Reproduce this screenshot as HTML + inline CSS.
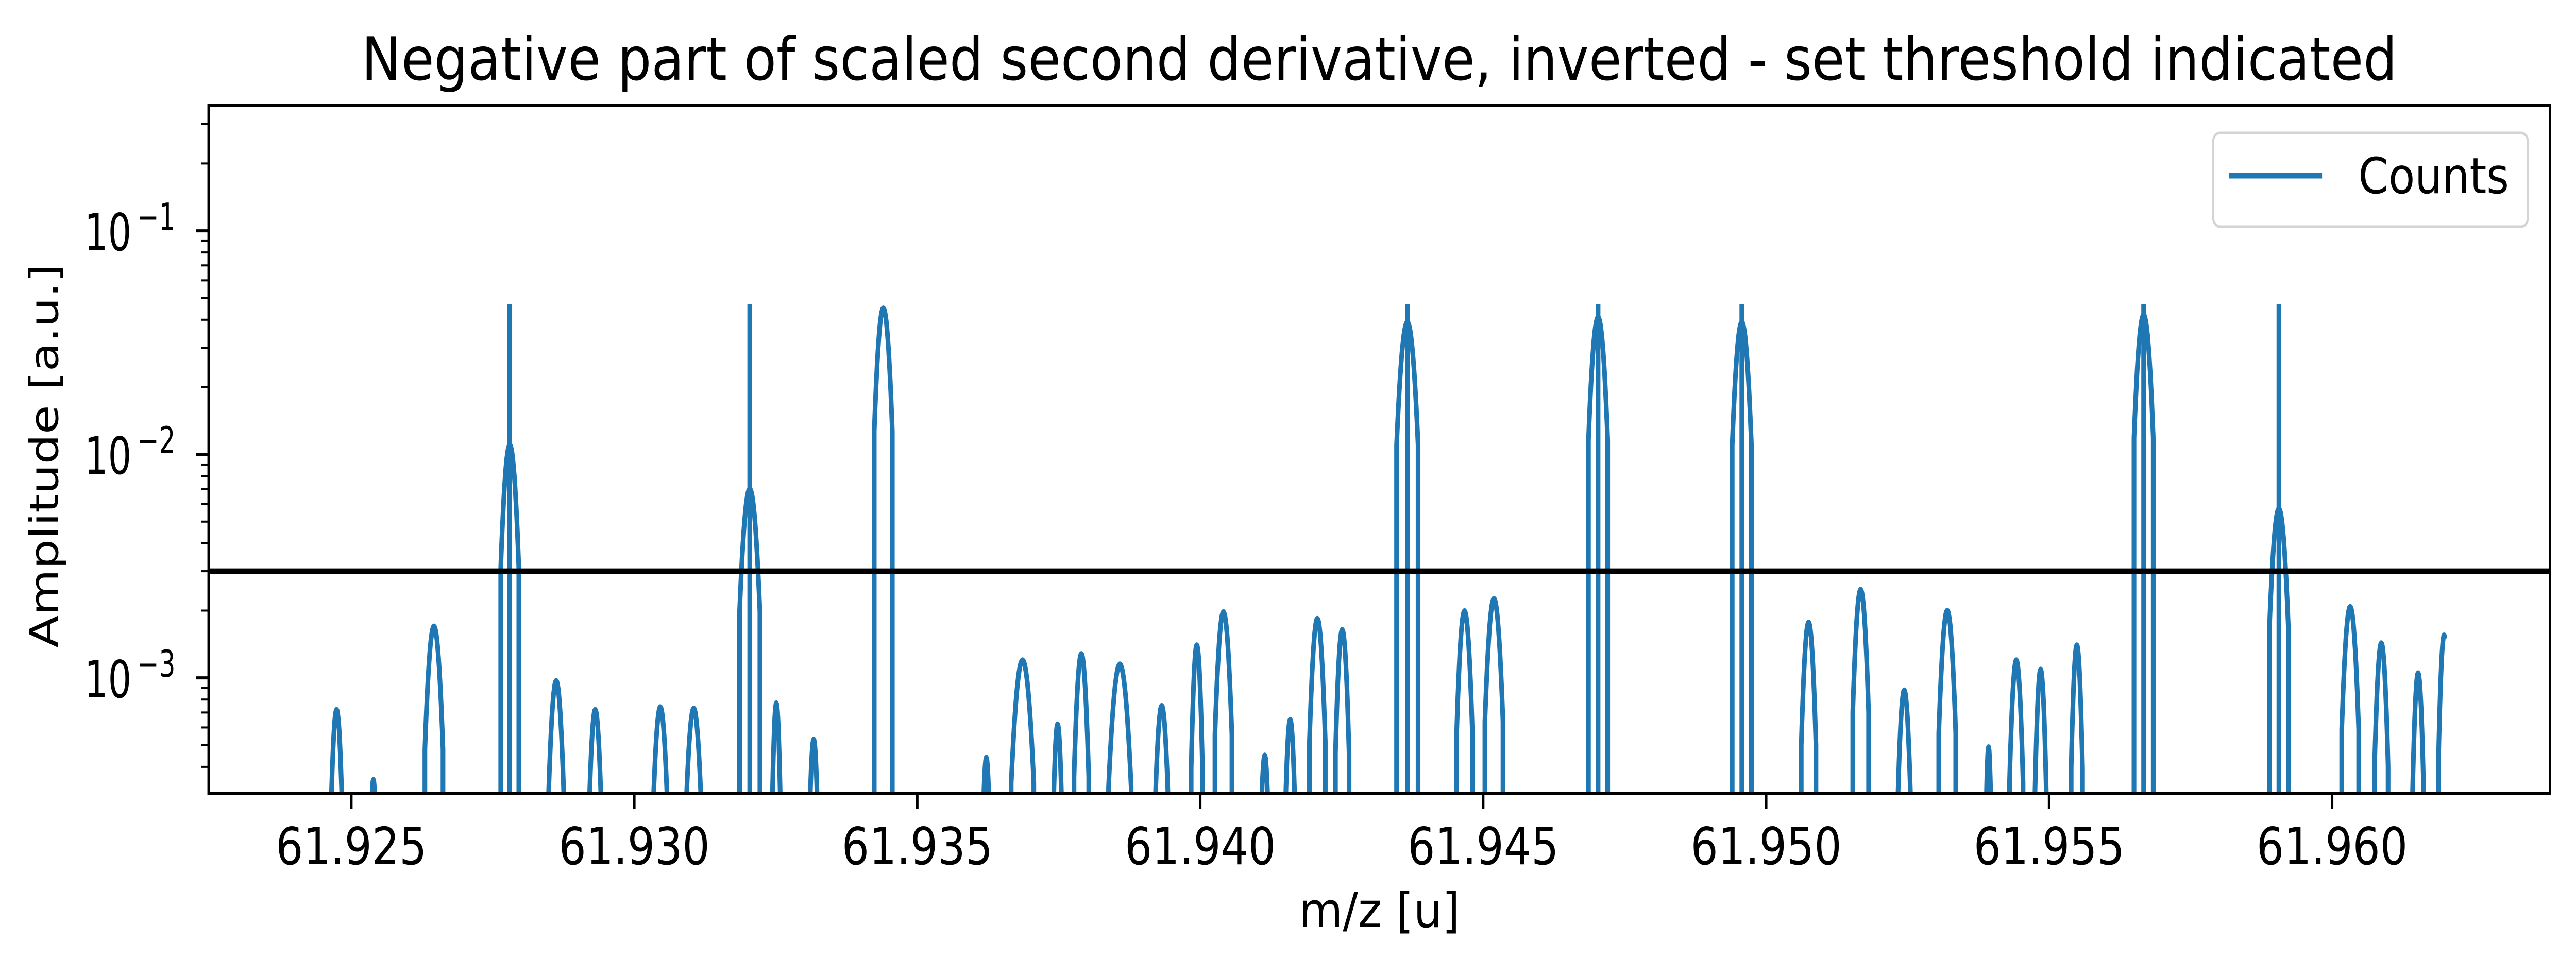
<!DOCTYPE html>
<html><head><meta charset="utf-8"><style>
html,body{margin:0;padding:0;background:#fff;width:100%;height:100%;overflow:hidden}
svg{display:block;position:absolute;left:0;top:0;width:100vw;height:100vh}
text{font-family:"DejaVu Sans","Liberation Sans",sans-serif;font-stretch:normal;fill:#000}
</style></head><body>
<svg id="chart" viewBox="0 0 6036 1895" preserveAspectRatio="none" xmlns="http://www.w3.org/2000/svg">
<defs><clipPath id="plotclip"><rect x="489" y="204" width="5486" height="1336"/></clipPath></defs>
<rect x="0" y="0" width="6036" height="1895" fill="#fff"/>
<text x="3232" y="155" font-size="116" text-anchor="middle" textLength="4770" lengthAdjust="spacingAndGlyphs">Negative part of scaled second derivative, inverted - set threshold indicated</text>
<text x="3232" y="1800" font-size="94" text-anchor="middle" textLength="377" lengthAdjust="spacingAndGlyphs">m/z [u]</text>
<text x="0" y="0" font-size="92" text-anchor="middle" transform="translate(136,885) rotate(-90)">Amplitude [a.u.]</text>
<g id="series" clip-path="url(#plotclip)"></g>
<g id="axes"></g>
<g>
<rect x="5186" y="258" width="737" height="182" rx="16" fill="#fff" fill-opacity="0.8" stroke="#d4d4d4" stroke-width="5"/>
<line x1="5223" y1="341" x2="5441" y2="341" stroke="#1f77b4" stroke-width="11"/>
<text x="5526" y="375" font-size="96" textLength="353" lengthAdjust="spacingAndGlyphs">Counts</text>
</g>
</svg>
<script>
// data
const peakMz = [61.92474,61.92539,61.92646,61.92780,61.92862,61.92931,61.93046,61.93105,61.93204,61.93251,
61.93317,61.93440,61.93622,61.93686,61.93748,61.93790,61.93858,61.93932,61.93994,61.94041,
61.94114,61.94159,61.94207,61.94251,61.94366,61.94467,61.94519,61.94703,61.94957,61.95075,
61.95167,61.95244,61.95320,61.95393,61.95442,61.95485,61.95549,61.95667,61.95906,61.96032,
61.96087,61.96152,61.96198];
const peakAmp = [7.2e-4,3.5e-4,1.7e-3,1.1e-2,9.7e-4,7.2e-4,7.4e-4,7.3e-4,7.0e-3,7.7e-4,
5.3e-4,4.5e-2,4.4e-4,1.2e-3,6.2e-4,1.28e-3,1.15e-3,7.5e-4,1.4e-3,1.97e-3,
4.5e-4,6.5e-4,1.84e-3,1.64e-3,3.9e-2,1.99e-3,2.26e-3,4.1e-2,3.9e-2,1.77e-3,
2.48e-3,8.8e-4,2.0e-3,4.9e-4,1.2e-3,1.09e-3,1.4e-3,4.2e-2,5.7e-3,2.08e-3,
1.43e-3,1.05e-3,1.55e-3];
const peakHalfWidth = [1.1e-4,0.7e-4,1.6e-4,1.6e-4,1.4e-4,1.2e-4,1.4e-4,1.5e-4,1.8e-4,0.8e-4,
0.9e-4,1.6e-4,0.8e-4,2.0e-4,0.9e-4,1.3e-4,2.0e-4,1.3e-4,1.0e-4,1.5e-4,
0.9e-4,1.0e-4,1.4e-4,1.2e-4,1.9e-4,1.4e-4,1.6e-4,1.7e-4,1.7e-4,1.3e-4,
1.4e-4,1.2e-4,1.5e-4,0.6e-4,1.2e-4,1.0e-4,1.0e-4,1.7e-4,1.7e-4,1.5e-4,
1.2e-4,1.0e-4,1.0e-4];
const spikeMz = [61.92780,61.93204,61.94366,61.94703,61.94957,61.95667,61.95906];
const spikeAmp = [0.047,0.047,0.047,0.047,0.047,0.047,0.047];
const dataEndMz = 61.96200;
const thresholdValue = 0.003;
const xTickValues = [61.925,61.930,61.935,61.940,61.945,61.950,61.955,61.960];
const xTickLabels = ["61.925","61.930","61.935","61.940","61.945","61.950","61.955","61.960"];
const yMajorExps = [-1,-2,-3];
const yMajorLabels = ["−1","−2","−3"];

const X0=489,X1=5975,Y0=204,Y1=1540;
const xmin=61.92248,xmax=61.96385;
const lmin=Math.log10(3.05e-4), lmax=Math.log10(0.365);
const xs=v=>X0+(v-xmin)/(xmax-xmin)*(X1-X0);
const ys=v=>Y1-(Math.log10(v)-lmin)/(lmax-lmin)*(Y1-Y0);
const NS="http://www.w3.org/2000/svg";
const series=document.getElementById('series');
const axes=document.getElementById('axes');
function mk(tag,attrs,parent){const e=document.createElementNS(NS,tag);for(const k in attrs)e.setAttribute(k,attrs[k]);parent.appendChild(e);return e;}

const BOT=Y1+30;
peakMz.forEach((m,i)=>{
  const h=peakAmp[i], w=peakHalfWidth[i], drop=0.55;
  const pts=[];
  const n=24;
  pts.push([xs(m-w),BOT]);
  for(let k=0;k<=n;k++){
    const d=-w+2*w*k/n;
    const mz=m+d;
    if(mz>dataEndMz) break;
    const lv=Math.log10(h)-drop*(d/w)*(d/w);
    pts.push([xs(mz),ys(Math.pow(10,lv))]);
  }
  if(m+w<=dataEndMz) pts.push([xs(m+w),BOT]);
  const p=mk('polyline',{points:pts.map(q=>q[0].toFixed(1)+','+q[1].toFixed(1)).join(' '),fill:'none',stroke:'#1f77b4','stroke-width':11,'stroke-linejoin':'round'},series);
  
  
});
spikeMz.forEach((m,i)=>{
  const l=mk('line',{x1:xs(m),x2:xs(m),y1:BOT,y2:ys(spikeAmp[i]),stroke:'#1f77b4','stroke-width':11},series);
  
  
});
const th=mk('line',{x1:X0,x2:X1,y1:ys(thresholdValue),y2:ys(thresholdValue),stroke:'#000','stroke-width':11},axes);



const fr=mk('rect',{x:X0,y:Y0,width:X1-X0,height:Y1-Y0,fill:'none',stroke:'#000','stroke-width':6},axes);



xTickValues.forEach((v,i)=>{
  const x=xs(v);
  const t=mk('line',{x1:x,x2:x,y1:Y1,y2:Y1+30,stroke:'#000','stroke-width':6},axes);
  
  
  const tx=mk('text',{x:x,y:Y1+138,'font-size':100,'text-anchor':'middle',textLength:354,lengthAdjust:'spacingAndGlyphs'},axes);
  tx.textContent=xTickLabels[i];
  
  
});
yMajorExps.forEach((e,i)=>{
  const y=ys(Math.pow(10,e));
  const t=mk('line',{x1:X0-30,x2:X0,y1:y,y2:y,stroke:'#000','stroke-width':6},axes);
  
  
  const a=mk('text',{x:198,y:y+38,'font-size':100,textLength:110,lengthAdjust:'spacingAndGlyphs'},axes);
  a.textContent='10';
  
  
  const b=mk('text',{x:322,y:y-2,'font-size':72,textLength:89,lengthAdjust:'spacingAndGlyphs'},axes);
  b.textContent=yMajorLabels[i];
  
  
});
for(let e=-4;e<=-1;e++){
  for(let k=2;k<=9;k++){
    const v=k*Math.pow(10,e);
    if(Math.log10(v)<lmin||Math.log10(v)>lmax) continue;
    const y=ys(v);
    const t=mk('line',{x1:X0-17,x2:X0,y1:y,y2:y,stroke:'#000','stroke-width':4},axes);
    
    
  }
}
</script>
</body></html>
